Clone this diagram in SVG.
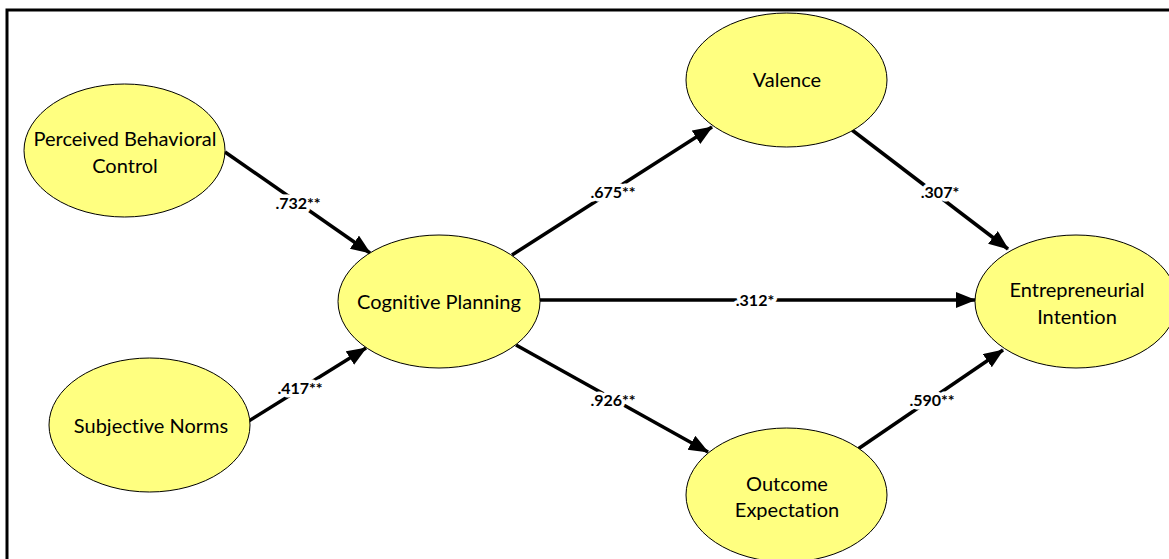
<svg xmlns="http://www.w3.org/2000/svg" width="1169" height="559" viewBox="0 0 1169 559">
<style>
.node ellipse{fill:#FFFF80;stroke:#000;stroke-width:1}
.node text{font-family:Lato,"Liberation Sans",sans-serif;font-size:20px;fill:#000;text-anchor:middle;font-variant-ligatures:none}
.edge line{stroke:#000;stroke-width:3.5;marker-end:url(#ah)}
.lbl{font-family:Lato,"Liberation Sans",sans-serif;font-size:16px;font-weight:bold;text-anchor:middle;fill:#000;stroke:#fff;stroke-width:7;paint-order:stroke;stroke-linejoin:round}
</style>
<defs>
<marker id="ah" markerUnits="userSpaceOnUse" markerWidth="20" markerHeight="18" refX="19" refY="8" orient="auto">
<path d="M0,0 L20,8 L0,16 z" fill="#000"/>
</marker>
</defs>
<rect x="0" y="0" width="1169" height="559" fill="#fff"/>
<rect x="7" y="10" width="1200" height="600" fill="none" stroke="#000" stroke-width="3"/>
<g id="connectors" class="edge">
<line x1="225" y1="152" x2="370" y2="253"/>
<line x1="236" y1="429" x2="366" y2="348"/>
<line x1="512" y1="255" x2="712" y2="127"/>
<line x1="540" y1="300" x2="975" y2="300"/>
<line x1="516" y1="345" x2="708" y2="452"/>
<line x1="852" y1="130" x2="1008" y2="249"/>
<line x1="858" y1="449" x2="1003" y2="350"/>
</g>
<g id="labels">
<text class="lbl" x="298" y="209">.732**</text>
<text class="lbl" x="300" y="394">.417**</text>
<text class="lbl" x="613" y="198">.675**</text>
<text class="lbl" x="755" y="306">.312*</text>
<text class="lbl" x="613" y="406">.926**</text>
<text class="lbl" x="940" y="198">.307*</text>
<text class="lbl" x="932" y="406">.590**</text>
</g>
<g id="pbc" class="node">
<ellipse cx="124.5" cy="150.5" rx="100.5" ry="66.5"/>
<text x="125" y="146">Perceived Behavioral</text>
<text x="125" y="173">Control</text>
</g>
<g id="sn" class="node">
<ellipse cx="149.5" cy="425" rx="100.5" ry="67"/>
<text x="151" y="433">Subjective Norms</text>
</g>
<g id="cp" class="node">
<ellipse cx="439" cy="301.5" rx="101" ry="66.5"/>
<text x="439" y="309">Cognitive Planning</text>
</g>
<g id="valence" class="node">
<ellipse cx="786.5" cy="80" rx="100.5" ry="67"/>
<text x="787" y="87">Valence</text>
</g>
<g id="oe" class="node">
<ellipse cx="786.5" cy="495" rx="100.5" ry="67"/>
<text x="787" y="491">Outcome</text>
<text x="787" y="517">Expectation</text>
</g>
<g id="ei" class="node">
<ellipse cx="1076" cy="301.5" rx="101" ry="66.5"/>
<text x="1077" y="297">Entrepreneurial</text>
<text x="1077" y="324">Intention</text>
</g>
</svg>
